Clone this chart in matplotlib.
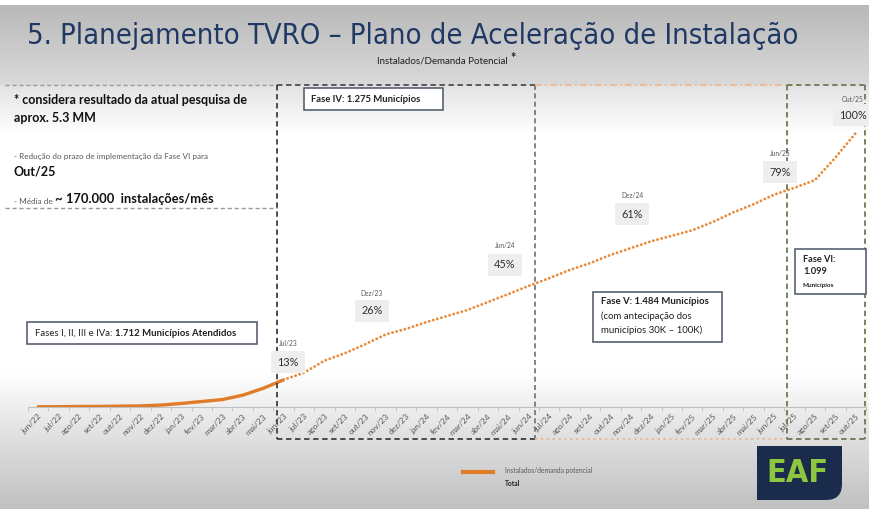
import numpy as np
import matplotlib
matplotlib.use('Agg')
import matplotlib.pyplot as plt
import matplotlib.font_manager as fm
from matplotlib.path import Path
from matplotlib.patches import PathPatch, Rectangle

# eixo de meses (jun/22 .. out/25)
meses = ['jun/22', 'jul/22', 'ago/22', 'set/22', 'out/22', 'nov/22', 'dez/22',
         'jan/23', 'fev/23', 'mar/23', 'abr/23', 'mai/23', 'jun/23', 'jul/23',
         'ago/23', 'set/23', 'out/23', 'nov/23', 'dez/23', 'jan/24', 'fev/24',
         'mar/24', 'abr/24', 'mai/24', 'jun/24', 'jul/24', 'ago/24', 'set/24',
         'out/24', 'nov/24', 'dez/24', 'jan/25', 'fev/25', 'mar/25', 'abr/25',
         'mai/25', 'jun/25', 'jul/25', 'ago/25', 'set/25', 'out/25']

# instalados/demanda potencial (%) - realizado jun/22..jun/23
realizado = [0.1, 0.1, 0.2, 0.2, 0.3, 0.4, 0.7, 1.3, 2.0, 2.7, 4.3, 6.8, 9.9]
# projeção jun/23..out/25
projetado = [9.9, 12.5, 16.9, 19.6, 22.9, 26.5, 28.5, 31.0, 33.2, 35.4, 38.3,
             41.2, 44.2, 47.0, 50.0, 52.5, 55.5, 58.0, 60.5, 62.5, 64.5, 67.5,
             71.0, 74.0, 77.5, 80.0, 82.8, 91.0, 100.0]

# marcos anotados no slide
marcos_mes = ['Jul/23', 'Dez/23', 'Jun/24', 'Dez/24', 'Jun/25', 'Out/25']
marcos_pct = ['13%', '26%', '45%', '61%', '79%', '100%']

W, H = 870, 509
FONTE = 'Lato'
LARANJA = '#E07B28'
CINZA = '#595959'
BORDA = '#4A5566'

# fonte estreita para o título, se existir alguma instalada
def fonte_estreita(negrito=False):
    for f in fm.fontManager.ttflist:
        nome = (f.name + ' ' + f.fname).lower()
        if ('narrow' in nome or 'condensed' in nome) and 'oblique' not in nome \
                and 'italic' not in nome:
            eh_negrito = f.weight in ('bold', 700) or 'bold' in nome
            if eh_negrito == negrito:
                return fm.FontProperties(fname=f.fname)
    return fm.FontProperties(family='Liberation Sans',
                             weight='bold' if negrito else 'normal')

fig = plt.figure(figsize=(W / 100, H / 100), dpi=100)
renderer = fig.canvas.get_renderer()

def ajustar_largura(txt, largura):
    bb = txt.get_window_extent(renderer)
    txt.set_fontsize(txt.get_fontsize() * largura / bb.width)

# fundo com degradê (cinza em cima e embaixo)
bg = fig.add_axes([0, 0, 1, 1], zorder=0)
yy = np.arange(H)
tons = np.interp(yy, [0, 4, 5, 40, 84, 86, 135, 370, 440, 508],
                 [1.0, 1.0, 0.72, 0.78, 0.85, 0.89, 1.0, 1.0, 0.87, 0.75])
grad = np.repeat(tons[:, None], 10, axis=1)
bg.imshow(grad, cmap='gray', vmin=0, vmax=1, aspect='auto', extent=[0, W, H, 0])
bg.set_xlim(0, W)
bg.set_ylim(H, 0)
bg.axis('off')

# gráfico
ax = fig.add_axes([28 / W, (H - 407) / H, 838 / W, 301.4 / H], zorder=1)
ax.patch.set_alpha(0)
x_real = np.arange(len(realizado))
x_proj = np.arange(len(realizado) - 1, len(realizado) - 1 + len(projetado))
ax.plot(x_real, realizado, color=LARANJA, lw=2.4, solid_capstyle='round', zorder=3)
ax.plot(x_proj, projetado, color='#E98A3A', lw=2.1, linestyle=(0, (0.01, 1.45)),
        dash_capstyle='round', zorder=3)
ax.set_xlim(-0.5, 40.3)
ax.set_ylim(0, 110)
for s in ['top', 'right', 'left']:
    ax.spines[s].set_visible(False)
ax.spines['bottom'].set_color('#BFBFBF')
ax.set_yticks([])
ax.set_xticks(range(len(meses)))
ax.set_xticklabels(meses, rotation=45, ha='right', rotation_mode='anchor',
                   fontsize=6, color=CINZA, family=FONTE)
ax.set_xticks(np.arange(-0.5, len(meses), 1), minor=True)
ax.tick_params(axis='x', which='major', length=0, pad=4)
ax.tick_params(axis='x', which='minor', length=3, color='#BFBFBF')

# camada de anotações em pixels
ov = fig.add_axes([0, 0, 1, 1], zorder=2)
ov.patch.set_alpha(0)
ov.set_xlim(0, W)
ov.set_ylim(H, 0)
ov.axis('off')

# título
tt = ov.text(27, 36, '5. Planejamento TVRO – Plano de Aceleração de Instalação',
             fontproperties=fonte_estreita(), fontsize=23, color='#1F3864',
             va='center', ha='left')
ajustar_largura(tt, 773)
ov.text(508, 61, 'Instalados/Demanda Potencial', fontsize=7, family=FONTE,
        ha='right', va='center', color='#202020')
ov.text(510, 58, '*', fontsize=9, family=FONTE, fontweight='bold', ha='left',
        va='center', color='#202020')

# caixas tracejadas das fases
def seg(x0, y0, x1, y1, cor, ls, lw=1.0):
    ov.plot([x0, x1], [y0, y1], color=cor, ls=ls, lw=lw)

tr = (0, (3, 2))
seg(5, 85, 277, 85, '#9A9A9A', tr)
seg(5, 208, 277, 208, '#9A9A9A', tr)
seg(277, 85, 535, 85, '#505050', tr, 1.3)
seg(277, 439, 535, 439, '#404040', tr, 1.3)
seg(277, 85, 277, 439, '#404040', tr, 1.3)
seg(535, 85, 535, 439, '#707070', tr, 1.2)
seg(535, 85, 787, 85, '#F2B48A', (0, (4, 2, 1, 2)), 1.2)
seg(535, 439, 787, 439, '#E9B890', (0, (1.5, 2)), 1.2)
seg(787, 85, 865, 85, '#6E7856', tr, 1.3)
seg(787, 439, 865, 439, '#6E7856', tr, 1.3)
seg(787, 85, 787, 439, '#6E7856', tr, 1.3)
seg(865, 85, 865, 439, '#6E7856', tr, 1.3)

# notas
ov.text(14, 100, '* considera resultado da atual pesquisa de', fontsize=9,
        family=FONTE, fontweight='bold', va='center', color='#111111')
ov.text(14, 118, 'aprox. 5.3 MM', fontsize=9, family=FONTE, fontweight='bold',
        va='center', color='#111111')
ov.text(14, 157, '- Redução do prazo de implementação da Fase VI para', fontsize=5.9,
        family=FONTE, va='center', color=CINZA)
ov.text(14, 172, 'Out/25', fontsize=9, family=FONTE, fontweight='bold',
        va='center', color='#111111')
t1 = ov.text(14, 204, '- Média de ', fontsize=5.9, family=FONTE, va='baseline',
             color=CINZA)
t2 = ov.annotate('~ ', xy=(1, 0), xycoords=t1, fontsize=9.5, family=FONTE,
                 fontweight='bold', va='bottom', color='#111111')
ov.annotate('170.000  instalações/mês', xy=(1, 0), xycoords=t2, fontsize=9.3,
            family=FONTE, fontweight='bold', va='bottom', color='#111111')

# caixas de texto das fases
def caixa(x0, y0, x1, y1):
    ov.add_patch(Rectangle((x0, y0), x1 - x0, y1 - y0, fc='white', ec=BORDA,
                           lw=1.1, zorder=4))

caixa(304, 88, 443, 110)
ov.text(311, 99, 'Fase IV: 1.275 Municípios', fontsize=6.8, family=FONTE,
        fontweight='bold', va='center', color='#202020', zorder=5)

caixa(27, 322, 257, 344)
f1 = ov.text(35, 336, 'Fases I, II, III e IVa: ', fontsize=6.9, family=FONTE,
             va='baseline', color='#202020', zorder=5)
ov.annotate('1.712 Municípios Atendidos', xy=(1, 0), xycoords=f1, fontsize=6.9,
            family=FONTE, fontweight='bold', va='bottom', color='#202020', zorder=5)

caixa(593, 292, 722, 342)
ov.text(601, 302, 'Fase V: 1.484 Municípios', fontsize=6.9, family=FONTE,
        fontweight='bold', va='center', color='#202020', zorder=5)
ov.text(601, 316, '(com antecipação dos', fontsize=6.9, family=FONTE,
        va='center', color='#202020', zorder=5)
ov.text(601, 330, 'municípios 30K – 100K)', fontsize=6.9, family=FONTE,
        va='center', color='#202020', zorder=5)

caixa(795, 249, 866, 294)
ov.text(803, 259, 'Fase VI:', fontsize=6.7, family=FONTE, fontweight='bold',
        va='center', color='#202020', zorder=5)
ov.text(803, 272, '1.099', fontsize=6.7, family=FONTE, fontweight='bold',
        va='center', color='#202020', zorder=5)
ov.text(803, 285, 'Municípios', fontsize=4.6, family=FONTE, fontweight='bold',
        va='center', color='#202020', zorder=5)

# rótulos dos marcos
pos_marcos = [(288, 343, 362), (372, 294, 311), (505, 245, 265),
              (632, 196, 214), (780, 154, 172), (853, 99, 115)]
for mes, pct, (px, py_mes, py_pct) in zip(marcos_mes, marcos_pct, pos_marcos):
    ov.text(px, py_mes, mes, fontsize=4.8, family=FONTE, ha='center',
            va='center', color=CINZA, zorder=5)
    ov.text(px, py_pct, pct, fontsize=7.8, family=FONTE, ha='center',
            va='center', color='#303030', zorder=5,
            bbox=dict(boxstyle='square,pad=0.55', fc='#EEEEEE', ec='none'))

# legenda
ov.plot([463, 493], [472, 472], color=LARANJA, lw=3)
ov.text(505, 471, 'Instalados/demanda potencial', fontsize=4.8, family=FONTE,
        va='center', color=CINZA)
ov.text(505, 483, 'Total', fontsize=4.8, family=FONTE, fontweight='bold',
        va='center', color='#202020')

# logo EAF
r = 16
logo = Path([(757, 446), (842, 446), (842, 500 - r), (842, 500), (842 - r, 500),
             (757, 500), (757, 446)],
            [Path.MOVETO, Path.LINETO, Path.LINETO, Path.CURVE3, Path.CURVE3,
             Path.LINETO, Path.CLOSEPOLY])
ov.add_patch(PathPatch(logo, fc='#1B2B4B', ec='none', zorder=5))
te = ov.text(798, 473, 'EAF', fontproperties=fonte_estreita(True), fontsize=22,
             color='#8DC63F', ha='center', va='center', zorder=6)
ajustar_largura(te, 62)

fig.savefig('out.png', dpi=100)
